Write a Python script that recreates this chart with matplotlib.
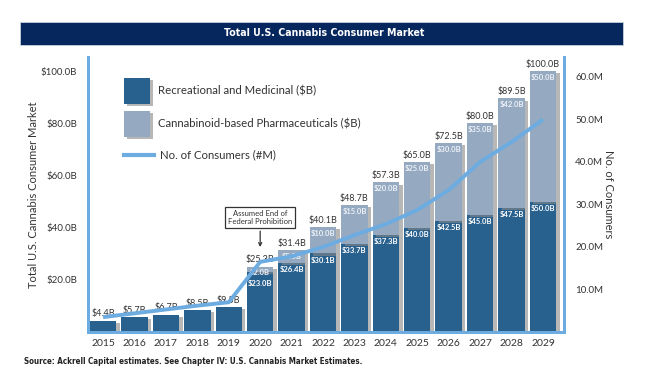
"""Total U.S. Cannabis Consumer Market: stacked bars plus consumer line."""
import matplotlib.pyplot as plt
import matplotlib.patheffects as pe
from matplotlib.patches import Rectangle
from matplotlib.lines import Line2D

plt.rcParams['font.family'] = ['Lato', 'DejaVu Sans']

# data
years = ['2015', '2016', '2017', '2018', '2019', '2020', '2021', '2022',
         '2023', '2024', '2025', '2026', '2027', '2028', '2029']
recreational = [4.4, 5.7, 6.7, 8.5, 9.5, 23.0, 26.4, 30.1, 33.7, 37.3,
                40.0, 42.5, 45.0, 47.5, 50.0]  # $B
pharma = [0, 0, 0, 0, 0, 2.0, 5.0, 10.0, 15.0, 20.0,
          25.0, 30.0, 35.0, 42.0, 50.0]  # $B
totals = [4.4, 5.7, 6.7, 8.5, 9.5, 25.3, 31.4, 40.1, 48.7, 57.3,
          65.0, 72.5, 80.0, 89.5, 100.0]  # $B
consumers = [3.5, 4.4, 5.3, 6.2, 7.0, 16.5, 17.8, 20.0, 22.8, 25.4,
             28.7, 33.4, 40.0, 44.7, 50.0]  # millions

left_ticks = [20, 40, 60, 80, 100]
right_ticks = [10, 20, 30, 40, 50, 60]

dark = '#28608e'
light = '#95a9c1'
line_blue = '#6cace0'
text_col = '#333333'
narrow = dict(family=['DejaVu Sans'], stretch='condensed')

fig = plt.figure(figsize=(6.5, 3.88), dpi=100)
W, H = 650, 388


def fx(x):
    return x / W


def fy(y):
    return 1 - y / H


ax = fig.add_axes([fx(88), fy(332), fx(564) - fx(88), fy(57) - fy(332)])
ax2 = ax.twinx()

x = list(range(len(years)))
shadow = [pe.SimplePatchShadow(offset=(2.5, -1.5), shadow_rgbFace='#888888', alpha=0.6), pe.Normal()]
b1 = ax.bar(x, recreational, width=0.84, color=dark, zorder=2)
b2 = ax.bar(x, pharma, width=0.84, bottom=recreational, color=light, zorder=2)
for bar in list(b1) + list(b2):
    bar.set_path_effects(shadow)

# value labels
for i in range(len(years)):
    ax.text(i, totals[i] + 0.8, f'${totals[i]:.1f}B', ha='center', va='bottom',
            fontsize=6.5, color=text_col, zorder=5)
    if pharma[i] > 0:
        ax.text(i, totals[i] - 2.4, f'${pharma[i]:.1f}B', ha='center',
                va='center', fontsize=5.5, color='#eef2f7', fontweight='bold', zorder=5)
        ax.text(i, min(recreational[i] - 2.6, totals[i] - 6.8), f'${recreational[i]:.1f}B',
                ha='center', va='center', fontsize=5.5, color='white', fontweight='bold', zorder=5)

ax.set_xlim(-0.48, 14.67)
ax.set_ylim(0, 105.4)
ax.set_yticks(left_ticks)
ax.set_yticklabels([f'${v:.1f}B' for v in left_ticks], fontsize=7, color=text_col)
ax.set_xticks(x)
ax.set_xticklabels(years, fontsize=7.5, color=text_col)
ax.tick_params(length=0, pad=5)
ax.tick_params(axis='y', pad=8)
ax.set_ylabel('Total U.S. Cannabis Consumer Market', fontsize=8, color=text_col, labelpad=1)

# consumer line on right axis
ax2.plot(x, consumers, color=line_blue, linewidth=2.8, solid_capstyle='butt', zorder=4)
ax2.set_ylim(0, 64.7)
ax2.set_yticks(right_ticks)
ax2.set_yticklabels([f'{v:.1f}M' for v in right_ticks], fontsize=7, color=text_col)
ax2.tick_params(length=0, pad=8)
ax2.set_ylabel('No. of Consumers', fontsize=8, color=text_col, rotation=270, labelpad=8)

for a in (ax, ax2):
    a.spines['top'].set_visible(False)
    for s in ('left', 'right', 'bottom'):
        a.spines[s].set_color(line_blue)
        a.spines[s].set_linewidth(2)

# annotation
ax.annotate('Assumed End of\nFederal Prohibition', xy=(5, 31.5), xytext=(5, 44),
            ha='center', va='center', fontsize=5.5, color=text_col,
            bbox=dict(boxstyle='square,pad=0.4', fc='white', ec='#333333', lw=0.9),
            arrowprops=dict(arrowstyle='->', color='#333333', lw=0.9), zorder=6)

# legend drawn in figure pixels
sq = 26
for y0, col, label in [(78, dark, 'Recreational and Medicinal ($B)'),
                       (111, light, 'Cannabinoid-based Pharmaceuticals ($B)')]:
    r = Rectangle((fx(124), fy(y0 + sq)), sq / W, sq / H, transform=fig.transFigure,
                  facecolor=col, edgecolor='none')
    r.set_path_effects(shadow)
    fig.add_artist(r)
    fig.text(fx(158), fy(y0 + sq / 2), label, fontsize=8.2, color=text_col, va='center')
fig.add_artist(Line2D([fx(124), fx(154)], [fy(155), fy(155)], transform=fig.transFigure,
                      color=line_blue, linewidth=3))
fig.text(fx(160), fy(155), 'No. of Consumers (#M)', fontsize=8.2, color=text_col, va='center')

# title banner
fig.add_artist(Rectangle((fx(20), fy(45)), fx(623) - fx(20), fy(22) - fy(45),
                         transform=fig.transFigure, facecolor='#06275e', edgecolor='#c8cfdc', lw=0.6))
fig.text(fx(324), fy(33.5), 'Total U.S. Cannabis Consumer Market', color='white',
         fontsize=7.6, fontweight='bold', ha='center', va='center', **narrow)

# source line
fig.text(fx(24), fy(362), 'Source: Ackrell Capital estimates. See Chapter IV: U.S. Cannabis Market Estimates.',
         fontsize=5.8, fontweight='bold', color='#222222', va='center', **narrow)

fig.savefig('out.png', dpi=100)
